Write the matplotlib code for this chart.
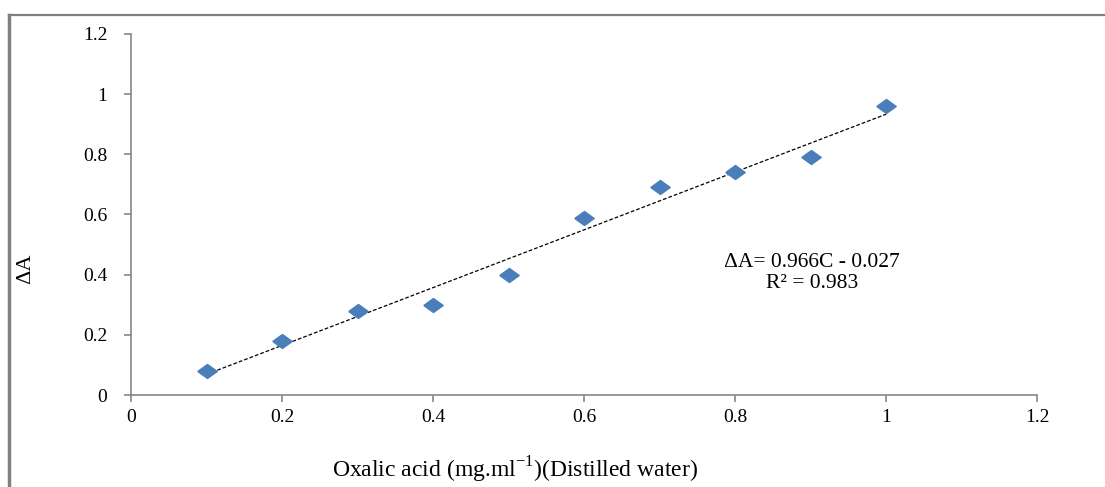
import numpy as np
import matplotlib.pyplot as plt
from matplotlib.lines import Line2D
from matplotlib.ticker import FormatStrFormatter

# oxalic acid concentration (mg/ml) vs absorbance change
conc = [0.1, 0.2, 0.3, 0.4, 0.5, 0.6, 0.7, 0.8, 0.9, 1.0]
delta_a = [0.08, 0.18, 0.28, 0.30, 0.40, 0.59, 0.69, 0.74, 0.79, 0.96]

plt.rcParams['font.family'] = ['Liberation Serif', 'DejaVu Serif']
plt.rcParams['mathtext.fontset'] = 'custom'
plt.rcParams['mathtext.rm'] = 'Liberation Serif'

fig = plt.figure(figsize=(11.05, 4.87), dpi=100)
ax = fig.add_axes([0.1186, 0.1889, 0.8199, 0.7413])

# squashed diamond like the excel marker
diamond = [(-1, 0), (0, 0.72), (1, 0), (0, -0.72), (-1, 0)]
ax.plot(conc, delta_a, linestyle='none', marker=diamond, markersize=14,
        color='#4a7ebb', markeredgecolor='#4a7ebb', zorder=3)

# linear trendline
slope, icpt = np.polyfit(conc, delta_a, 1)
xs = np.array([conc[0], conc[-1]])
ax.plot(xs, slope * xs + icpt, color='black', lw=0.9,
        linestyle=(0, (3, 1.6)), zorder=2)

ax.text(0.902, 0.44, 'ΔA= 0.966C - 0.027', ha='center', va='center', fontsize=15.5)
ax.text(0.902, 0.372, 'R² = 0.983', ha='center', va='center', fontsize=15.5)

ax.set_xlim(0, 1.2)
ax.set_ylim(0, 1.2)
ax.set_xticks(np.arange(0, 1.21, 0.2))
ax.set_yticks(np.arange(0, 1.21, 0.2))
ax.xaxis.set_major_formatter(FormatStrFormatter('%g'))
ax.yaxis.set_major_formatter(FormatStrFormatter('%g'))

for s in ['top', 'right']:
    ax.spines[s].set_visible(False)
for s in ['left', 'bottom']:
    ax.spines[s].set_color('#868686')
    ax.spines[s].set_linewidth(1.2)
ax.tick_params(direction='out', length=5, width=1.2, color='#868686',
               labelsize=14)
ax.tick_params(axis='x', pad=5)
ax.tick_params(axis='y', pad=12)

ax.set_xlabel('Oxalic acid (mg.ml$^{\\mathregular{-1}}$)(Distilled water)', fontsize=17)
ax.set_ylabel('ΔA', fontsize=16)
ax.xaxis.set_label_coords(0.424, -0.166)
ax.yaxis.set_label_coords(-0.106, 0.35)

# outer frame (only top and left visible in the crop)
fig.add_artist(Line2D([0.0077, 0.0077], [0, 0.969], transform=fig.transFigure,
                      color='#808080', lw=2.5))
fig.add_artist(Line2D([0.0077, 1], [0.969, 0.969], transform=fig.transFigure,
                      color='#808080', lw=1.6))

fig.savefig('out.png', dpi=100)
